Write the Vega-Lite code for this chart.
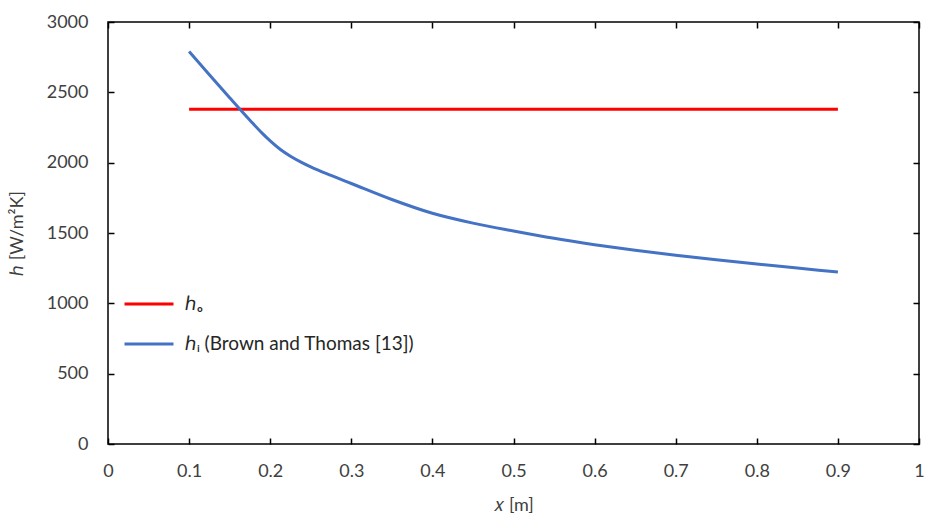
{
  "$schema": "https://vega.github.io/schema/vega-lite/v6.json",
  "width": 811,
  "height": 422,
  "autosize": {"type": "none"},
  "padding": {"left": 108, "top": 22, "right": 6, "bottom": 74},
  "background": "white",
  "config": {
    "font": "Lato",
    "view": {"stroke": "black", "strokeWidth": 1.5},
    "axis": {
      "grid": false,
      "domain": false,
      "tickColor": "black",
      "tickWidth": 1.5,
      "tickSize": -6,
      "labelFlush": false,
      "labelFont": "Lato",
      "labelFontSize": 18,
      "labelColor": "#404040",
      "titleFont": "Lato",
      "titleFontSize": 18,
      "titleFontWeight": "normal",
      "titleColor": "#404040"
    }
  },
  "data": {
    "values": [
      {"x": 0.1, "h": 2380, "series": "ℎₒ"},
      {"x": 0.9, "h": 2380, "series": "ℎₒ"},
      {"x": 0.1, "h": 2790, "series": "ℎᵢ (Brown and Thomas [13])"},
      {"x": 0.125, "h": 2625, "series": "ℎᵢ (Brown and Thomas [13])"},
      {"x": 0.15, "h": 2462, "series": "ℎᵢ (Brown and Thomas [13])"},
      {"x": 0.175, "h": 2302, "series": "ℎᵢ (Brown and Thomas [13])"},
      {"x": 0.19, "h": 2210, "series": "ℎᵢ (Brown and Thomas [13])"},
      {"x": 0.2, "h": 2155, "series": "ℎᵢ (Brown and Thomas [13])"},
      {"x": 0.213, "h": 2092, "series": "ℎᵢ (Brown and Thomas [13])"},
      {"x": 0.225, "h": 2046, "series": "ℎᵢ (Brown and Thomas [13])"},
      {"x": 0.238, "h": 2004, "series": "ℎᵢ (Brown and Thomas [13])"},
      {"x": 0.25, "h": 1970, "series": "ℎᵢ (Brown and Thomas [13])"},
      {"x": 0.275, "h": 1909, "series": "ℎᵢ (Brown and Thomas [13])"},
      {"x": 0.3, "h": 1852, "series": "ℎᵢ (Brown and Thomas [13])"},
      {"x": 0.35, "h": 1738, "series": "ℎᵢ (Brown and Thomas [13])"},
      {"x": 0.4, "h": 1640, "series": "ℎᵢ (Brown and Thomas [13])"},
      {"x": 0.45, "h": 1570, "series": "ℎᵢ (Brown and Thomas [13])"},
      {"x": 0.5, "h": 1514, "series": "ℎᵢ (Brown and Thomas [13])"},
      {"x": 0.55, "h": 1462, "series": "ℎᵢ (Brown and Thomas [13])"},
      {"x": 0.6, "h": 1417, "series": "ℎᵢ (Brown and Thomas [13])"},
      {"x": 0.65, "h": 1377, "series": "ℎᵢ (Brown and Thomas [13])"},
      {"x": 0.7, "h": 1342, "series": "ℎᵢ (Brown and Thomas [13])"},
      {"x": 0.75, "h": 1310, "series": "ℎᵢ (Brown and Thomas [13])"},
      {"x": 0.8, "h": 1280, "series": "ℎᵢ (Brown and Thomas [13])"},
      {"x": 0.85, "h": 1251, "series": "ℎᵢ (Brown and Thomas [13])"},
      {"x": 0.9, "h": 1222, "series": "ℎᵢ (Brown and Thomas [13])"}
    ]
  },
  "layer": [
    {
      "mark": {"type": "line", "strokeWidth": 3, "interpolate": "monotone"},
      "encoding": {
        "x": {
          "field": "x", "type": "quantitative",
          "scale": {"domain": [0, 1], "nice": false},
          "axis": {"values": [0,0.1,0.2,0.3,0.4,0.5,0.6,0.7,0.8,0.9,1], "format": "~g", "title": "𝑥 [m]", "labelPadding": 24, "titlePadding": 16}
        },
        "y": {
          "field": "h", "type": "quantitative",
          "scale": {"domain": [0, 3000], "nice": false},
          "axis": {"values": [0,500,1000,1500,2000,2500,3000], "format": "d", "title": "ℎ [W/m²K]", "labelPadding": 26, "titlePadding": 20}
        },
        "color": {
          "field": "series", "type": "nominal",
          "scale": {"domain": ["ℎₒ", "ℎᵢ (Brown and Thomas [13])"], "range": ["#FF0000", "#4472C4"]},
          "sort": ["ℎₒ", "ℎᵢ (Brown and Thomas [13])"],
          "legend": {
            "title": null,
            "orient": "none",
            "legendX": 15,
            "legendY": 256,
            "symbolType": "stroke",
            "symbolSize": 2401,
            "symbolStrokeWidth": 3,
            "labelFont": "Lato",
            "labelFontSize": 19,
            "labelColor": "#262626",
            "labelOffset": 10,
            "labelLimit": 500,
            "rowPadding": 4,
            "padding": 0
          }
        }
      }
    },
    {
      "mark": {"type": "line", "opacity": 0},
      "encoding": {
        "x": {
          "field": "x", "type": "quantitative",
          "scale": {"domain": [0, 1], "nice": false},
          "axis": {"orient": "top", "values": [0,0.1,0.2,0.3,0.4,0.5,0.6,0.7,0.8,0.9,1], "labels": false, "title": null}
        },
        "y": {
          "field": "h", "type": "quantitative",
          "scale": {"domain": [0, 3000], "nice": false},
          "axis": {"orient": "right", "values": [0,500,1000,1500,2000,2500,3000], "labels": false, "title": null}
        }
      }
    }
  ],
  "resolve": {"axis": {"x": "independent", "y": "independent"}}
}
